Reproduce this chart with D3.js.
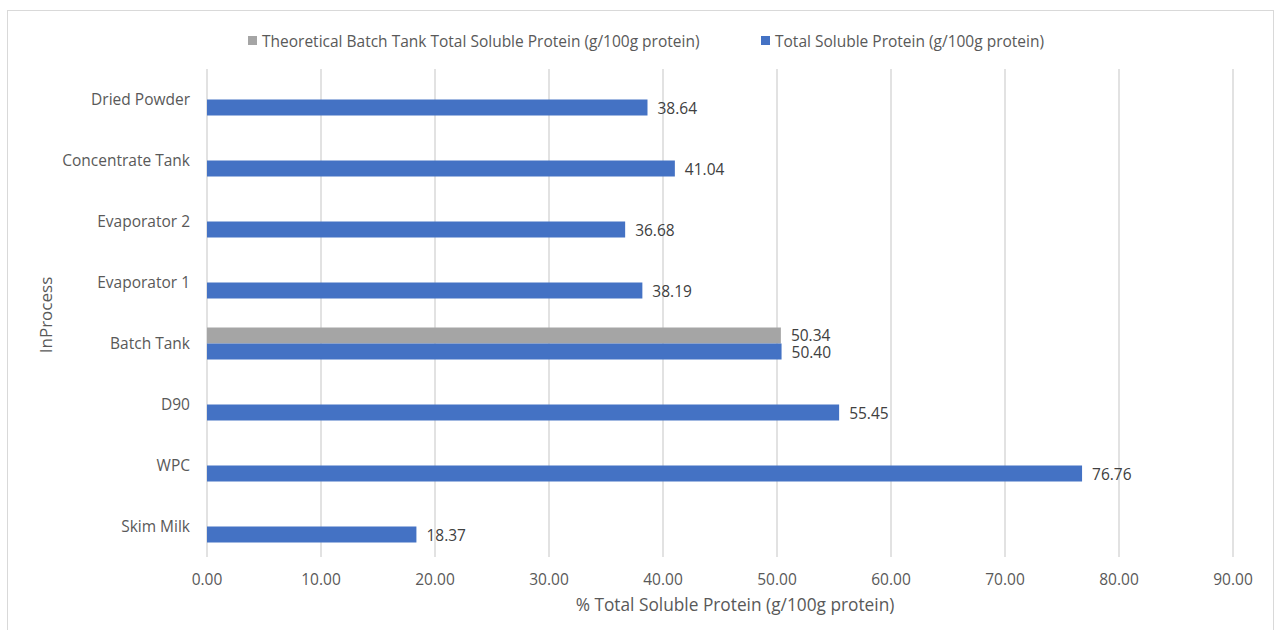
<!DOCTYPE html>
<html><head><meta charset="utf-8">
<script src="https://cdn.jsdelivr.net/npm/d3@7"></script>
<style>body{margin:0;background:#fff;} text{font-family:"Open Sans",sans-serif;}</style>
</head><body>
<svg id="chart" width="1279" height="630"></svg>
<script>
const categories = ["Dried Powder","Concentrate Tank","Evaporator 2","Evaporator 1","Batch Tank","D90","WPC","Skim Milk"];
const seriesNames = ["Theoretical Batch Tank Total Soluble Protein (g/100g protein)","Total Soluble Protein (g/100g protein)"];
const theoretical = [null,null,null,null,50.34,null,null,null];
const total = [38.64,41.04,36.68,38.19,50.40,55.45,76.76,18.37];
const xTicks = [0,10,20,30,40,50,60,70,80,90];
const colors = ["#A5A5A5","#4472C4"];

(function(){
const svg = d3.select("#chart");
svg.append("rect").attr("x",7.5).attr("y",10.5).attr("width",1266).attr("height",640)
  .attr("fill","#fff").attr("stroke","#D9D9D9");

const pL = 207, pR = 1233, pT = 69, pB = 557;
const x = d3.scaleLinear().domain([0,90]).range([pL,pR]);
const y = d3.scaleBand().domain(categories).range([pT,pB]);
const inner = d3.scaleBand().domain([0,1]).range([y.bandwidth()/2-16, y.bandwidth()/2+16]);
const fs = 15.5;

svg.append("g").selectAll("line").data(xTicks).join("line")
  .attr("x1",d=>x(d)).attr("x2",d=>x(d)).attr("y1",pT).attr("y2",pB)
  .attr("stroke","#D9D9D9").attr("stroke-width",1.5);

svg.append("g").selectAll("text").data(xTicks).join("text")
  .attr("x",d=>x(d)).attr("y",585).attr("text-anchor","middle")
  .attr("fill","#595959").attr("font-size",fs).text(d=>d.toFixed(2));

svg.append("g").selectAll("text").data(categories).join("text")
  .attr("x",190).attr("y",d=>y(d)+y.bandwidth()/2).attr("dy","0.36em").attr("text-anchor","end")
  .attr("fill","#595959").attr("font-size",fs).text(d=>d);

const series = [theoretical,total];
series.forEach((vals,si)=>{
  const data = categories.map((c,i)=>({c,v:vals[i]})).filter(d=>d.v!=null);
  const g = svg.append("g");
  g.selectAll("rect").data(data).join("rect")
    .attr("x",x(0)).attr("y",d=>y(d.c)+inner(si)).attr("width",d=>x(d.v)-x(0)).attr("height",inner.bandwidth())
    .attr("fill",colors[si]);
  g.selectAll("text").data(data).join("text")
    .attr("x",d=>x(d.v)+10).attr("y",d=>y(d.c)+inner(si)+inner.bandwidth()/2 + (si===0?-0.5:0.5)).attr("dy","0.36em")
    .attr("fill","#404040").attr("font-size",fs).text(d=>d.v.toFixed(2));
});

svg.append("text").attr("x",735).attr("y",611).attr("text-anchor","middle")
  .attr("fill","#595959").attr("font-size",17.3).text("% Total Soluble Protein (g/100g protein)");
svg.append("text").attr("transform","translate(52,315) rotate(-90)").attr("text-anchor","middle")
  .attr("fill","#595959").attr("font-size",17).text("InProcess");

const legX = [248,761];
seriesNames.forEach((n,i)=>{
  svg.append("rect").attr("x",legX[i]).attr("y",36).attr("width",9).attr("height",9).attr("fill",colors[i]);
  svg.append("text").attr("x",legX[i]+14).attr("y",41).attr("dy","0.36em")
    .attr("fill","#595959").attr("font-size",fs).text(n);
});
})();
</script>
</body></html>
